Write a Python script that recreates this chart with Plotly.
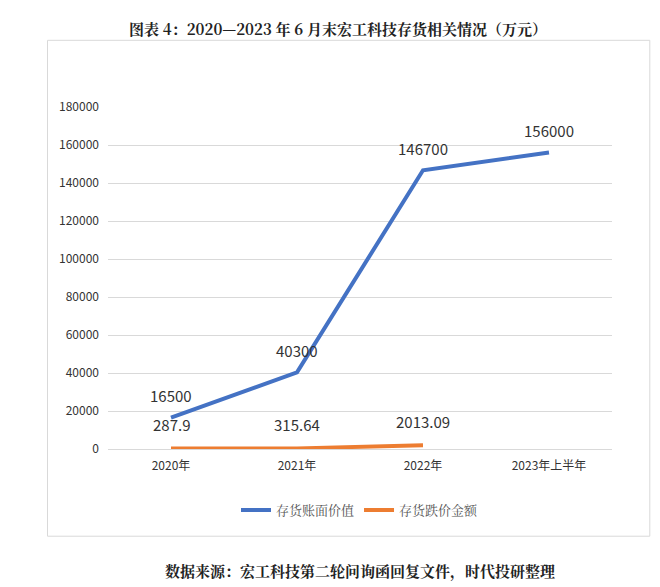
import plotly.graph_objects as go

categories = ["2020年", "2021年", "2022年", "2023年上半年"]
book_value = [16500, 40300, 146700, 156000]
impairment = [287.9, 315.64, 2013.09]
impairment_labels = ["287.9", "315.64", "2013.09"]
yticks = [0, 20000, 40000, 60000, 80000, 100000, 120000, 140000, 160000, 180000]

fig = go.Figure()
fig.add_trace(go.Scatter(x=categories, y=book_value, name="存货账面价值", mode="lines",
    line=dict(color="#4472C4", width=4)))
fig.add_trace(go.Scatter(x=categories[:3], y=impairment, name="存货跌价金额", mode="lines",
    line=dict(color="#ED7D31", width=4)))
for c, v in zip(categories, book_value):
    fig.add_annotation(x=c, y=v, text=str(v), showarrow=False, yshift=22, font=dict(size=15, color="#333"))
for c, v, t in zip(categories, impairment, impairment_labels):
    fig.add_annotation(x=c, y=v, text=t, showarrow=False, yshift=24, font=dict(size=15, color="#333"))

fig.update_layout(
    width=660, height=587, margin=dict(l=100, r=56, t=99, b=146),
    paper_bgcolor="white", plot_bgcolor="white", font=dict(family="Noto Sans CJK SC", color="#444"),
    title=dict(text="<b>图表 4：2020—2023 年 6 月末宏工科技存货相关情况（万元）</b>", x=0.5, y=0.972,
               xanchor="center", font=dict(size=15, color="#222", family="Noto Serif CJK SC, Noto Sans CJK SC")),
    xaxis=dict(type="category", showgrid=False, showline=True, linecolor="#d9d9d9", tickfont=dict(size=12, color="#333"),
               range=[-0.5, 3.5], ticklabelstandoff=6),
    yaxis=dict(range=[0, 180000], tickvals=yticks, ticktext=[str(v) for v in yticks], gridcolor="#d9d9d9",
               zeroline=False, showline=False, tickfont=dict(size=12, color="#333"), ticks="", ticklabelstandoff=8),
    legend=dict(orientation="h", x=0.5, xanchor="center", y=-0.135, yanchor="top",
                font=dict(size=13, color="#555", family="Noto Serif CJK SC, Noto Sans CJK SC")),
    showlegend=True,
)
fig.add_shape(type="rect", xref="paper", yref="paper", x0=-0.12, x1=1.075, y0=-0.255, y1=1.195,
              line=dict(color="#d9d9d9", width=1))
fig.add_annotation(text="<b>数据来源：宏工科技第二轮问询函回复文件，时代投研整理</b>", xref="paper", yref="paper",
                   x=0.5, y=-0.395, showarrow=False, font=dict(size=15, color="#222", family="Noto Serif CJK SC, Noto Sans CJK SC"))
fig.write_html("out.html")
